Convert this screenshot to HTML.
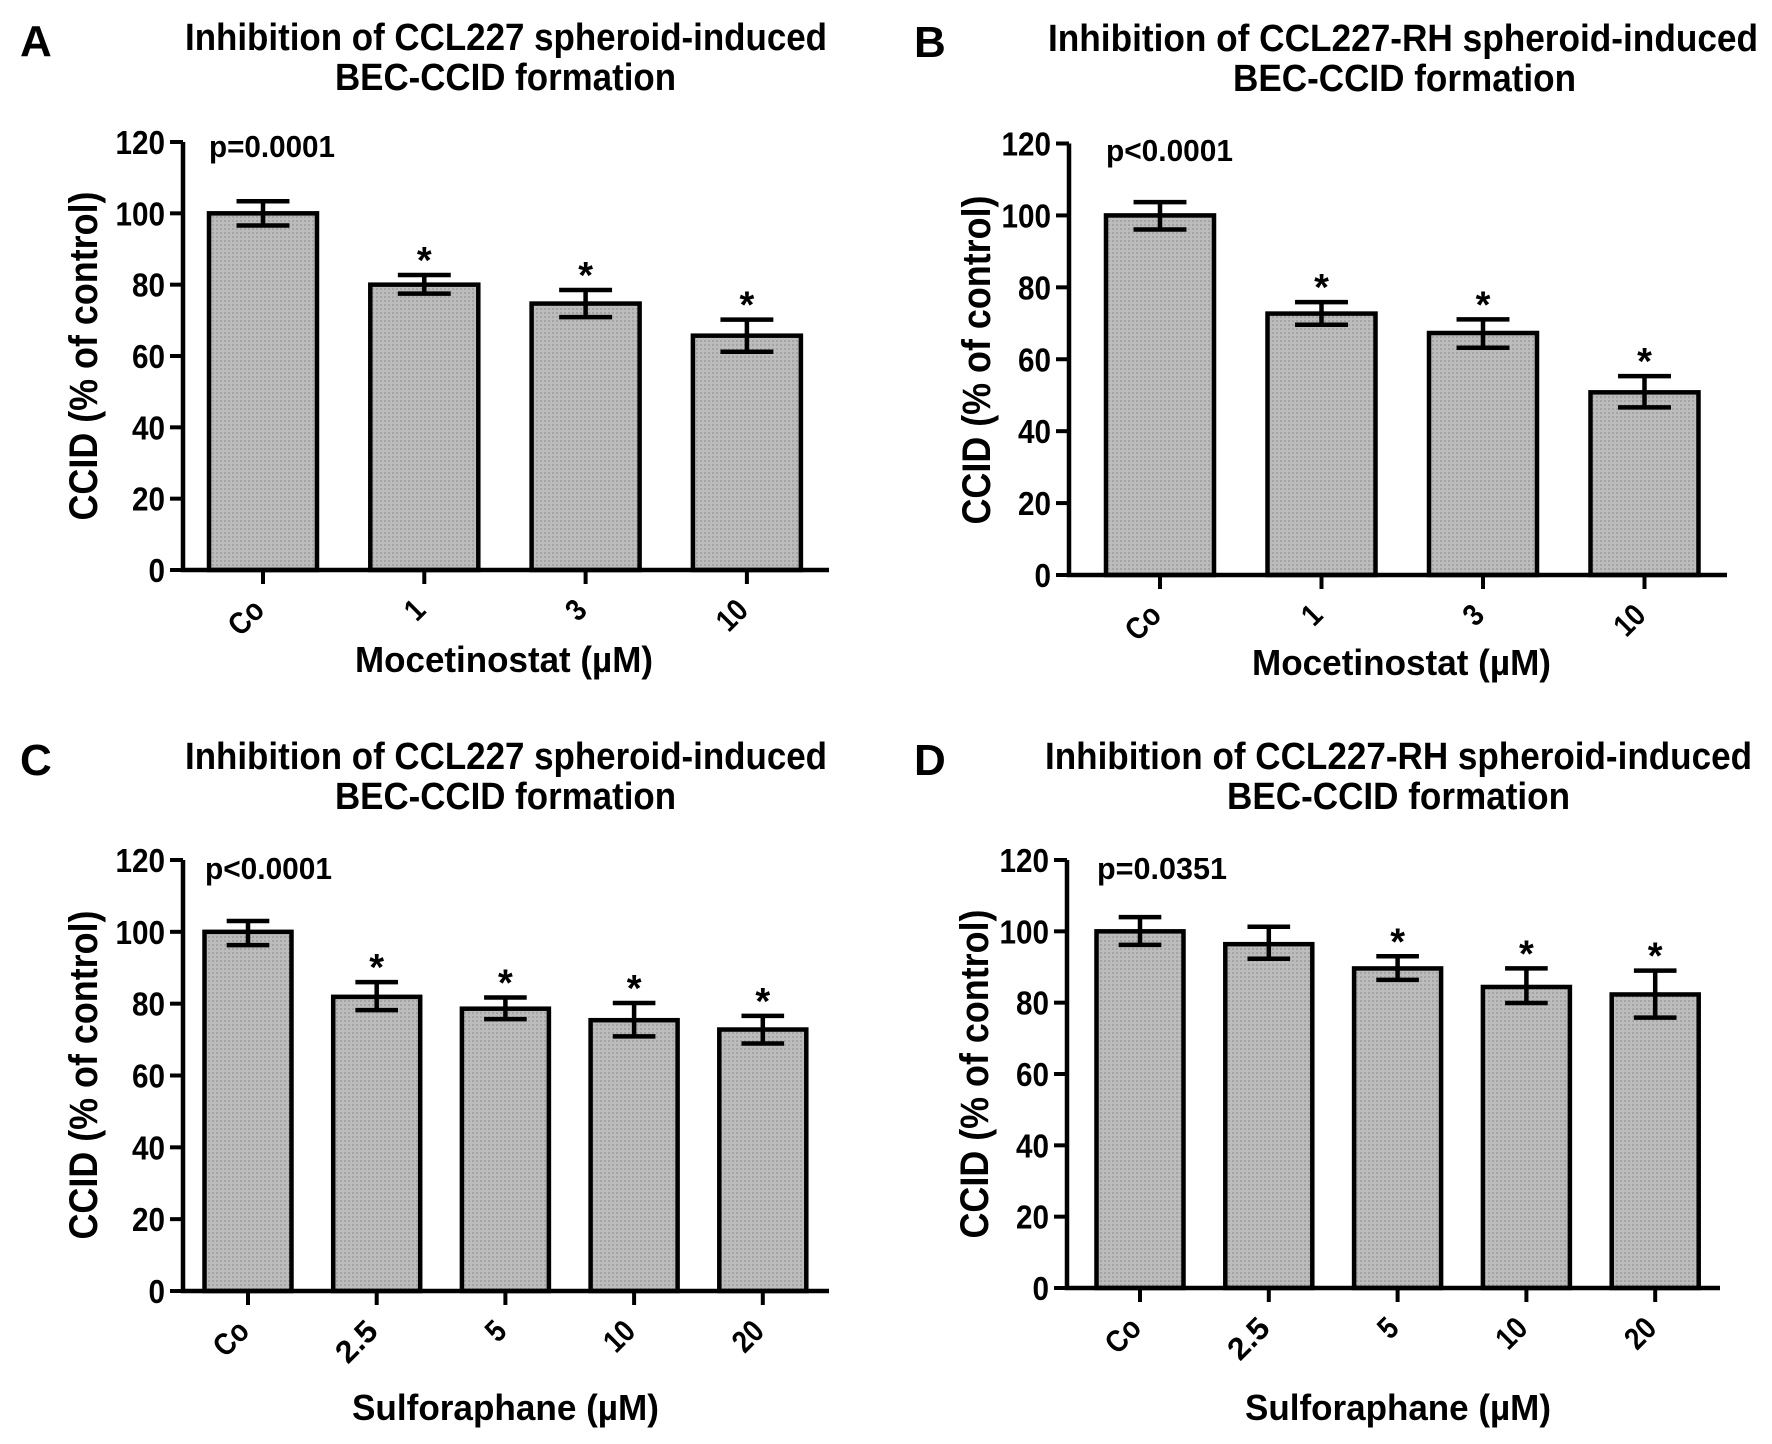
<!DOCTYPE html>
<html><head><meta charset="utf-8"><style>
html,body{margin:0;padding:0;background:#fff;}
svg{display:block;}
text{font-family:"Liberation Sans",Arial,sans-serif;font-weight:bold;fill:#000;}
</style></head>
<body>
<svg id="fig" width="1772" height="1444" viewBox="0 0 1772 1444" xmlns="http://www.w3.org/2000/svg">
<defs>
<pattern id="dots" width="4" height="4" patternUnits="userSpaceOnUse">
<rect width="4" height="4" fill="#bcbcbc"/><rect width="2" height="2" fill="#a4a4a4"/>
</pattern>
</defs>
</svg>
<script>
// Panel A
const catsA = ["Co","1","3","10"];
const valsA = [100,80,74.7,65.7];
const errHiA = [103.4,82.7,78.5,70.2];
const errLoA = [96.6,77.5,70.9,61.2];
const starA = [false,true,true,true];
// Panel B
const catsB = ["Co","1","3","10"];
const valsB = [100,72.7,67.3,50.8];
const errHiB = [103.7,75.9,71.1,55.3];
const errLoB = [96.1,69.6,63.2,46.6];
const starB = [false,true,true,true];
// Panel C
const catsC = ["Co","2.5","5","10","20"];
const valsC = [100,81.9,78.6,75.4,72.8];
const errHiC = [103,86,81.7,80.2,76.6];
const errLoC = [96.3,78.2,75.7,70.9,68.9];
const starC = [false,true,true,true,true];
// Panel D
const catsD = ["Co","2.5","5","10","20"];
const valsD = [100,96.4,89.6,84.4,82.3];
const errHiD = [104,101.3,93,89.6,89];
const errLoD = [96.2,92.3,86.4,79.9,75.8];
const starD = [false,false,true,true,true];
const yTicks = [0,20,40,60,80,100,120];

const NS = "http://www.w3.org/2000/svg";
const svg = document.getElementById('fig');
function mk(tag, attrs, parent){
  const e = document.createElementNS(NS, tag);
  for (const k in attrs) e.setAttribute(k, attrs[k]);
  (parent||svg).appendChild(e);
  return e;
}

const panels = [
 {letter:"A", lx:20, ly:56, t1:"Inhibition of CCL227 spheroid-induced", t1x:185, t1w:642, t1y:50,
  t2x:335, t2w:341, t2y:90, ax:183, y0:570, y120:142, xend:829, c0:263, sp:161.3, bw:108,
  p:"p=0.0001", px:209, pw:126, py:157, xt:"Mocetinostat (µM)", xtx:355, xtw:298, xty:672, ytx:97, ytc:356,
  cats:catsA, vals:valsA, hi:errHiA, lo:errLoA, star:starA},
 {letter:"B", lx:914, ly:57, t1:"Inhibition of CCL227-RH spheroid-induced", t1x:1048, t1w:710, t1y:51,
  t2x:1233, t2w:343, t2y:91, ax:1069, y0:575, y120:143.5, xend:1727, c0:1160, sp:161.5, bw:108,
  p:"p<0.0001", px:1106, pw:127, py:161, xt:"Mocetinostat (µM)", xtx:1252, xtw:299, xty:675, ytx:990, ytc:360,
  cats:catsB, vals:valsB, hi:errHiB, lo:errLoB, star:starB},
 {letter:"C", lx:20, ly:775, t1:"Inhibition of CCL227 spheroid-induced", t1x:185, t1w:642, t1y:769,
  t2x:335, t2w:341, t2y:809, ax:183, y0:1291, y120:860, xend:829, c0:248, sp:128.7, bw:87,
  p:"p<0.0001", px:205, pw:127, py:879, xt:"Sulforaphane (µM)", xtx:352, xtw:307, xty:1420, ytx:97, ytc:1075,
  cats:catsC, vals:valsC, hi:errHiC, lo:errLoC, star:starC},
 {letter:"D", lx:914, ly:775, t1:"Inhibition of CCL227-RH spheroid-induced", t1x:1045, t1w:707, t1y:769,
  t2x:1227, t2w:343, t2y:809, ax:1067, y0:1288, y120:860, xend:1720, c0:1140, sp:128.8, bw:87,
  p:"p=0.0351", px:1097, pw:130, py:879, xt:"Sulforaphane (µM)", xtx:1245, xtw:306, xty:1420, ytx:988, ytc:1074,
  cats:catsD, vals:valsD, hi:errHiD, lo:errLoD, star:starD}
];

panels.forEach((P, pi) => {
  const g = mk('g', {});
  
  
  const y = v => P.y0 - (P.y0 - P.y120) * v / 120;
  const xc = i => P.c0 + i * P.sp;

  let t = mk('text', {x:P.lx, y:P.ly, 'font-size':44}, g); t.textContent = P.letter;
  
  
  t = mk('text', {x:P.t1x, y:P.t1y, 'font-size':38, textLength:P.t1w, lengthAdjust:'spacingAndGlyphs'}, g); t.textContent = P.t1;
  
  
  t = mk('text', {x:P.t2x, y:P.t2y, 'font-size':38, textLength:P.t2w, lengthAdjust:'spacingAndGlyphs'}, g); t.textContent = "BEC-CCID formation";
  
  

  P.vals.forEach((v, i) => {
    const r = mk('rect', {x:xc(i)-P.bw/2, y:y(v), width:P.bw, height:P.y0-y(v), fill:'url(#dots)', stroke:'#000', 'stroke-width':4.5}, g);
    
    
    const cw = P.bw * 0.49;
    const e = mk('path', {d:`M${xc(i)-cw/2},${y(P.hi[i])}H${xc(i)+cw/2}M${xc(i)},${y(P.hi[i])}V${y(P.lo[i])}M${xc(i)-cw/2},${y(P.lo[i])}H${xc(i)+cw/2}`, stroke:'#000', 'stroke-width':4.5, fill:'none'}, g);
    
    
    if (P.star[i]) {
      const s = mk('text', {x:xc(i), y:y(P.hi[i]) - 2, 'font-size':38, 'text-anchor':'middle', 'font-weight':'normal'}, g);
      s.textContent = "*";
      
      
    }
    const tk = mk('line', {x1:xc(i), x2:xc(i), y1:P.y0, y2:P.y0+14, stroke:'#000', 'stroke-width':4}, g);
    
    
    const lx = xc(i) + 3, ly = P.y0 + 42;
    const lw = P.cats[i] === "Co" ? 36 : P.cats[i].length * 15;
    const lb = mk('text', {x:lx, y:ly, 'font-size':31, 'text-anchor':'end', textLength:lw, lengthAdjust:'spacingAndGlyphs', transform:`rotate(-45 ${lx} ${ly})`}, g);
    lb.textContent = P.cats[i];
    
    
  });

  const axes = mk('path', {d:`M${P.ax},${y(120)}V${P.y0}H${P.xend}`, stroke:'#000', 'stroke-width':4.5, fill:'none'}, g);
  
  
  yTicks.forEach(v => {
    const l = mk('line', {x1:P.ax-13, x2:P.ax, y1:y(v), y2:y(v), stroke:'#000', 'stroke-width':4}, g);
    
    
    const s = String(v);
    const tl = mk('text', {x:P.ax-18, y:y(v)+12, 'font-size':33, 'text-anchor':'end', textLength:s.length*16.5, lengthAdjust:'spacingAndGlyphs'}, g);
    tl.textContent = s;
    
    
  });

  t = mk('text', {x:P.px, y:P.py, 'font-size':31, textLength:P.pw, lengthAdjust:'spacingAndGlyphs'}, g); t.textContent = P.p;
  
  
  t = mk('text', {x:P.xtx, y:P.xty, 'font-size':36, textLength:P.xtw, lengthAdjust:'spacingAndGlyphs'}, g); t.textContent = P.xt;
  
  
  t = mk('text', {x:P.ytx, y:P.ytc, 'font-size':40, 'text-anchor':'middle', textLength:329, lengthAdjust:'spacingAndGlyphs', transform:`rotate(-90 ${P.ytx} ${P.ytc})`}, g);
  t.textContent = "CCID (% of control)";
  
  
});
</script>
</body></html>
